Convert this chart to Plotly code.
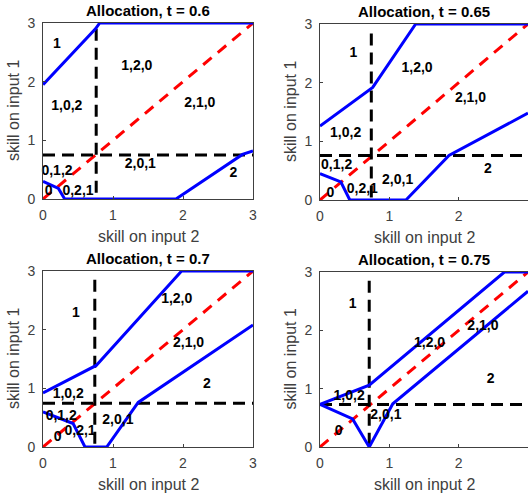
import plotly.graph_objects as go

# ---------------- data ----------------
T_VALUES = [0.6, 0.65, 0.7, 0.75]
TITLES = ["Allocation, t = 0.6", "Allocation, t = 0.65", "Allocation, t = 0.7", "Allocation, t = 0.75"]

# upper blue boundary (x = skill on input 2, y = skill on input 1)
UPPER_X = [[0, 0.75, 0.81, 3], [0, 0.76, 1.38, 3], [0, 0.76, 1.98, 3], [0, 0.71, 2.66, 3]]
UPPER_Y = [[1.95, 2.9, 3.0, 3.0], [1.26, 1.92, 3.0, 3.0], [0.92, 1.39, 3.0, 3.0], [0.73, 1.06, 3.0, 3.0]]

# lower blue boundary
LOWER_X = [[0, 0.22, 0.31, 1.9, 2.85, 3],
           [0, 0.3, 0.43, 1.24, 1.86, 3],
           [0, 0.43, 0.6, 0.91, 1.36, 3],
           [0, 0.47, 0.71, 1.05, 3]]
LOWER_Y = [[0.30, 0.18, 0.0, 0.0, 0.76, 0.82],
           [0.45, 0.31, 0.0, 0.0, 0.76, 1.48],
           [0.60, 0.40, 0.0, 0.0, 0.76, 2.08],
           [0.73, 0.48, 0.0, 0.74, 2.67]]

# thresholds (black dashed)
VCUT_X = [0.76, 0.74, 0.74, 0.71]
VCUT_TOP = [2.9, 2.84, 2.85, 2.85]
HCUT_Y = [0.75, 0.76, 0.745, 0.73]

# diagonal (red dashed)
DIAG = [0, 3]

# region labels
LABEL_TEXT = [
    ["1", "1,2,0", "1,0,2", "2,1,0", "2,0,1", "0,1,2", "0", "0,2,1", "2", "0,2,1,"],
    ["1", "1,2,0", "2,1,0", "1,0,2", "0,1,2", "2,0,1", "0", "0,2,1", "2"],
    ["1", "1,2,0", "2,1,0", "2", "1,0,2", "0,1,2", "2,0,1", "0", "0,2,1"],
    ["1", "1,2,0", "2,1,0", "2", "1,0,2", "2,0,1", "0"],
]
LABEL_X = [
    [0.2, 1.34, 0.34, 2.24, 1.39, 0.2, 0.08, 0.5, 2.72, 2.08],
    [0.48, 1.4, 2.17, 0.37, 0.24, 1.12, 0.15, 0.61, 2.42],
    [0.47, 1.91, 2.08, 2.34, 0.36, 0.26, 1.07, 0.21, 0.53],
    [0.47, 1.58, 2.35, 2.46, 0.42, 0.95, 0.27],
]
LABEL_Y = [
    [2.63, 2.26, 1.57, 1.63, 0.58, 0.47, 0.125, 0.125, 0.44, -0.39],
    [2.5, 2.24, 1.73, 1.14, 0.59, 0.34, 0.11, 0.18, 0.52],
    [2.28, 2.52, 1.76, 1.07, 0.89, 0.52, 0.45, 0.16, 0.26],
    [2.45, 1.78, 2.07, 1.15, 0.86, 0.54, 0.26],
]

TICKS = [0, 1, 2, 3]
TICK_TEXT = ["0", "1", "2", "3"]

# ---------------- layout ----------------
W, H = 528, 498
FONT = "Liberation Sans, Arial, Helvetica, sans-serif"
AXCOL = "#404040"

# pixel boxes of the four axes (left, right, top, bottom)
BOXES = [(43, 253, 23, 199), (320, 528, 24, 200), (43, 253, 271, 447), (320, 528, 272, 447)]

fig = go.Figure()
layout = dict(width=W, height=H, margin=dict(l=0, r=0, t=0, b=0, autoexpand=False),
              paper_bgcolor="white", plot_bgcolor="white", showlegend=False,
              font=dict(family=FONT, color=AXCOL))
annotations = []

for i in range(4):
    L, R, T, B = BOXES[i]
    xa = "x" if i == 0 else f"x{i+1}"
    ya = "y" if i == 0 else f"y{i+1}"
    xkey = "xaxis" if i == 0 else f"xaxis{i+1}"
    ykey = "yaxis" if i == 0 else f"yaxis{i+1}"
    axstyle = dict(range=[0, 3], tickvals=TICKS, ticktext=TICK_TEXT, showgrid=False, zeroline=False,
                   showline=True, mirror=True, linecolor=AXCOL, linewidth=1,
                   ticks="inside", ticklen=3, tickcolor=AXCOL, automargin=False,
                   tickfont=dict(family=FONT, size=14, color=AXCOL))
    layout[xkey] = dict(axstyle, domain=[L / W, R / W], anchor=ya, ticklabelstandoff=3)
    layout[ykey] = dict(axstyle, domain=[(H - B) / H, (H - T) / H], anchor=xa, ticklabelstandoff=4)

    # red diagonal
    fig.add_trace(go.Scatter(x=DIAG, y=DIAG, mode="lines", xaxis=xa, yaxis=ya,
                             line=dict(color="red", width=3, dash="11px,8px"), cliponaxis=False))
    # black dashed thresholds
    fig.add_trace(go.Scatter(x=[VCUT_X[i], VCUT_X[i]], y=[VCUT_TOP[i], 0], mode="lines", xaxis=xa, yaxis=ya,
                             line=dict(color="black", width=3, dash="12px,7px"), cliponaxis=False))
    fig.add_trace(go.Scatter(x=[0, 3], y=[HCUT_Y[i], HCUT_Y[i]], mode="lines", xaxis=xa, yaxis=ya,
                             line=dict(color="black", width=3, dash="12px,7px"), cliponaxis=False))
    # blue boundaries
    fig.add_trace(go.Scatter(x=UPPER_X[i], y=UPPER_Y[i], mode="lines", xaxis=xa, yaxis=ya,
                             line=dict(color="blue", width=3), cliponaxis=False))
    fig.add_trace(go.Scatter(x=LOWER_X[i], y=LOWER_Y[i], mode="lines", xaxis=xa, yaxis=ya,
                             line=dict(color="blue", width=3), cliponaxis=False))
    # region labels
    fig.add_trace(go.Scatter(x=LABEL_X[i], y=LABEL_Y[i], text=LABEL_TEXT[i], mode="text", xaxis=xa, yaxis=ya,
                             textposition="middle center", cliponaxis=False,
                             textfont=dict(family=FONT, size=14, color="black", weight="bold")))

    cx = (L + R) / 2 / W
    annotations.append(dict(text=TITLES[i], xref="paper", yref="paper", x=cx, y=(H - (T - 13)) / H,
                            showarrow=False, xanchor="center", yanchor="middle",
                            font=dict(family=FONT, size=15, color="black", weight="bold")))
    annotations.append(dict(text="skill on input 2", xref="paper", yref="paper", x=cx, y=(H - (B + 37)) / H,
                            showarrow=False, xanchor="center", yanchor="middle",
                            font=dict(family=FONT, size=16, color=AXCOL)))
    annotations.append(dict(text="skill on input 1", xref="paper", yref="paper", x=(L - 30) / W,
                            y=(H - (T + B) / 2) / H, textangle=-90,
                            showarrow=False, xanchor="center", yanchor="middle",
                            font=dict(family=FONT, size=16, color=AXCOL)))

layout["annotations"] = annotations
fig.update_layout(**layout)
fig.write_html("out.html", config={"displayModeBar": False, "staticPlot": True},
               post_script="document.body.style.margin='0';document.body.style.overflow='hidden';")
